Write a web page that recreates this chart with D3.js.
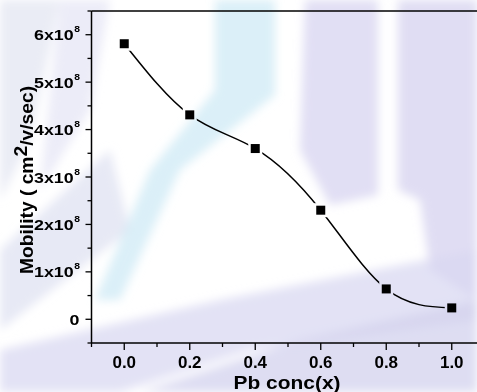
<!DOCTYPE html>
<html>
<head>
<meta charset="utf-8">
<script src="https://cdn.jsdelivr.net/npm/d3@7"></script>
<style>
  body { margin: 0; background: #fff; }
  svg { display: block; font-family: "Liberation Sans", Arial, sans-serif; }
  svg text { font-weight: bold; }
</style>
</head>
<body>
<div id="chart"></div>
<script>
// data
const pbConc = [0.0, 0.2, 0.4, 0.6, 0.8, 1.0];
const mobility = [5.81e8, 4.31e8, 3.60e8, 2.30e8, 0.64e8, 0.24e8];
const xTicks = [0.0, 0.2, 0.4, 0.6, 0.8, 1.0];
const yTicks = [0, 1e8, 2e8, 3e8, 4e8, 5e8, 6e8];

const width = 477, height = 392;

const svg = d3.select('#chart').append('svg')
  .attr('width', width)
  .attr('height', height);

const defs = svg.append('defs');
defs.append('filter').attr('id', 'soft')
  .attr('x', '-20%').attr('y', '-20%').attr('width', '140%').attr('height', '140%')
  .append('feGaussianBlur').attr('stdDeviation', 5);

// faint watermark behind the plot
const bg = svg.append('g').attr('class', 'watermark').attr('filter', 'url(#soft)');
const shapes = [
  { c: '#e3e6f2', p: [[0,0],[60,0],[30,140],[0,200]] },
  { c: '#dfe1f1', p: [[0,250],[110,150],[130,230],[0,330]] },
  { c: '#cfe9f6', p: [[215,0],[275,0],[275,95],[180,170],[120,300],[95,300],[150,170],[215,90]] },
  { c: '#d7d4f0', p: [[305,0],[378,0],[378,195],[330,205],[300,150]] },
  { c: '#d5d2ef', p: [[398,0],[477,0],[477,300],[430,270],[420,200],[398,190]] },
  { c: '#dad8f2', p: [[0,392],[0,350],[220,300],[477,250],[477,320],[250,350],[120,392]] },
  { c: '#d3d1ee', p: [[140,392],[300,340],[477,300],[477,392]] },
  { c: '#e6e5f5', p: [[60,0],[110,0],[90,110],[40,190]] }
];
bg.selectAll('polygon')
  .data(shapes)
  .enter().append('polygon')
  .attr('points', d => d.p.map(q => q.join(',')).join(' '))
  .attr('fill', d => d.c)
  .attr('opacity', 0.75);

const x = d3.scaleLinear().domain([-0.1, 1.1]).range([91.5, 484.5]);
const y = d3.scaleLinear().domain([-0.5e8, 6.5e8]).range([343, 11]);

// x axis
const xAxis = svg.append('g').attr('transform', 'translate(0,343)');
xAxis.append('line')
  .attr('x1', x(-0.1)).attr('x2', width).attr('stroke', '#000').attr('stroke-width', 1.5);
xAxis.selectAll('.minor')
  .data(d3.range(-1, 12).map(i => i / 10))
  .enter().append('line')
  .attr('x1', d => x(d)).attr('x2', d => x(d))
  .attr('y1', 0).attr('y2', d => (Math.round(d * 10) % 2 === 0 ? 7 : 4))
  .attr('stroke', '#000').attr('stroke-width', 1.3);
xAxis.selectAll('text')
  .data(xTicks)
  .enter().append('text')
  .attr('x', d => x(d))
  .attr('y', 24.5)
  .attr('text-anchor', 'middle')
  .attr('font-size', 17)
  .text(d => d.toFixed(1));

svg.append('text')
  .attr('x', 287).attr('y', 388.5)
  .attr('text-anchor', 'middle')
  .attr('font-size', 18.5)
  .attr('textLength', 107)
  .attr('lengthAdjust', 'spacingAndGlyphs')
  .text('Pb conc(x)');

// y axis
const yAxis = svg.append('g').attr('transform', 'translate(91.5,0)');
yAxis.append('line')
  .attr('y1', y(6.5e8)).attr('y2', y(-0.5e8)).attr('stroke', '#000').attr('stroke-width', 1.5);
yAxis.selectAll('.minor')
  .data(d3.range(-1, 14).map(i => i * 0.5e8))
  .enter().append('line')
  .attr('y1', d => y(d)).attr('y2', d => y(d))
  .attr('x1', d => (Math.round(d / 0.5e8) % 2 === 0 ? -6 : -4)).attr('x2', 0)
  .attr('stroke', '#000').attr('stroke-width', 1.3);
const yl = yAxis.selectAll('g.tl')
  .data(yTicks)
  .enter().append('g')
  .attr('transform', d => `translate(${d === 0 ? -12 : -11.5},${y(d) + 5.5}) scale(1.15,1)`)
  .append('text')
  .attr('text-anchor', 'end')
  .attr('font-size', 15.5);
yl.append('tspan').text(d => d === 0 ? '0' : (d / 1e8) + 'x10');
yl.filter(d => d !== 0).append('tspan')
  .attr('font-size', 9).attr('dy', -8).attr('dx', 0.5)
  .text('8');

// top frame
svg.append('line')
  .attr('x1', 91.5).attr('x2', width).attr('y1', 11).attr('y2', 11)
  .attr('stroke', '#000').attr('stroke-width', 1.5);

// y title
const yt = svg.append('text')
  .attr('transform', 'translate(33,180) rotate(-90) scale(1.1,1)')
  .attr('text-anchor', 'middle')
  .attr('font-size', 17.5);
yt.append('tspan').text('Mobility ( cm');
yt.append('tspan').attr('dy', -6).text('2');
yt.append('tspan').attr('dy', 6).text('/v/sec)');

// spline line with gaps at markers
const pts = pbConc.map((d, i) => [x(d), y(mobility[i])]);
const mask = defs.append('mask').attr('id', 'gap');
mask.append('rect').attr('width', width).attr('height', height).attr('fill', '#fff');
mask.selectAll('rect.g')
  .data(pts)
  .enter().append('rect')
  .attr('x', d => d[0] - 7).attr('y', d => d[1] - 7)
  .attr('width', 14).attr('height', 14).attr('fill', '#000');

svg.append('path')
  .datum(pts)
  .attr('d', d3.line().curve(d3.curveNatural))
  .attr('fill', 'none')
  .attr('stroke', '#000')
  .attr('stroke-width', 1.5)
  .attr('mask', 'url(#gap)');

svg.selectAll('rect.pt')
  .data(pts)
  .enter().append('rect')
  .attr('class', 'pt')
  .attr('x', d => d[0] - 4.5).attr('y', d => d[1] - 4.5)
  .attr('width', 9).attr('height', 9)
  .attr('fill', '#000');
</script>
</body>
</html>
